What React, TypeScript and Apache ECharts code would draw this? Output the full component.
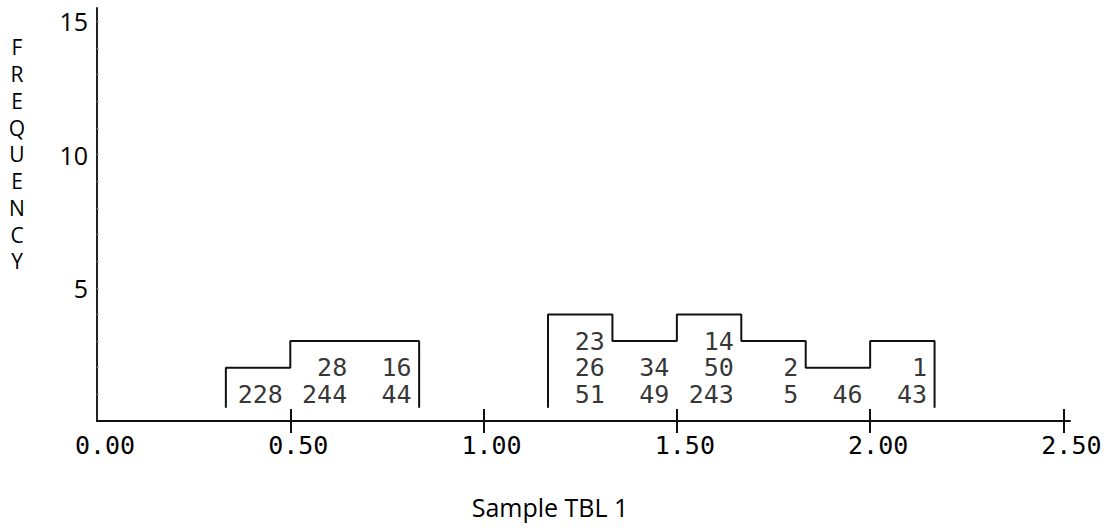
import React, { useEffect, useRef } from "react";
import * as echarts from "echarts";

// Histogram bins (left edge of each bin, in sample units) and outline heights
const binWidth = 1 / 6;
const binLefts = [1 / 3, 1 / 2, 2 / 3, 7 / 6, 4 / 3, 3 / 2, 5 / 3, 11 / 6, 2];
const binHeights = [2, 3, 3, 4, 3, 4, 3, 2, 3];
// Sample ids stacked inside each bin (bottom row first)
const binIds: string[][] = [
  ["228"],
  ["244", "28"],
  ["44", "16"],
  ["51", "26", "23"],
  ["49", "34"],
  ["243", "50", "14"],
  ["5", "2"],
  ["46"],
  ["43", "1"],
];
const edgeBase = 0.5;
const xLabelValues = [0, 0.5, 1, 1.5, 2, 2.5];
const xTickValues = [0.5, 1, 1.5, 2, 2.5];
const yLabelValues = [5, 10, 15];
const yTickValues = [1, 2, 3, 4, 5, 6, 7, 8, 9, 10, 11, 12, 13, 14, 15];
const yAxisTitle = "FREQUENCY";
const xAxisTitle = "Sample TBL 1";

const MONO = "DejaVu Sans Mono";
const SANS = "Open Sans";

function buildOutlines(): number[][][] {
  const groups: number[][][] = [];
  let cur: number[][] | null = null;
  let prevRight = -1;
  binLefts.forEach((left, i) => {
    const right = left + binWidth;
    const h = binHeights[i];
    if (!cur || Math.abs(left - prevRight) > 1e-6) {
      if (cur) {
        cur.push([prevRight, edgeBase]);
        groups.push(cur);
      }
      cur = [[left, edgeBase]];
    }
    cur.push([left, h]);
    cur.push([right, h]);
    prevRight = right;
  });
  if (cur) {
    (cur as number[][]).push([prevRight, edgeBase]);
    groups.push(cur);
  }
  return groups;
}

export default function App() {
  const ref = useRef<HTMLDivElement>(null);
  useEffect(() => {
    if (!ref.current) return;
    const chart = echarts.init(ref.current, undefined, { renderer: "svg" });
    const outlines = buildOutlines();
    const labelData: any[] = [];
    binLefts.forEach((left, i) => {
      binIds[i].forEach((id, k) => {
        labelData.push({ value: [left + binWidth, k + 1], name: id });
      });
    });
    const lineColor = "#111";
    chart.setOption({
      animation: false,
      grid: { left: 97, right: 41, top: 8, bottom: 108 },
      xAxis: [
        {
          type: "value",
          min: 0,
          max: 2.517,
          interval: 0.5,
          splitLine: { show: false },
          axisLine: { show: true, onZero: false, lineStyle: { color: lineColor, width: 2 } },
          axisTick: {
            show: true,
            customValues: xTickValues,
            length: 12,
            lineStyle: { color: lineColor, width: 2 },
          },
          axisLabel: {
            customValues: xLabelValues,
            formatter: (v: number) => v.toFixed(2),
            fontFamily: MONO,
            fontSize: 25,
            color: "#000",
            margin: 12,
            padding: [0, 0, 0, 16],
          },
        },
        {
          type: "value",
          position: "bottom",
          min: 0,
          max: 2.517,
          interval: 0.5,
          splitLine: { show: false },
          axisLine: { show: false },
          axisTick: {
            show: true,
            inside: true,
            customValues: xTickValues,
            length: 12,
            lineStyle: { color: lineColor, width: 2 },
          },
          axisLabel: { show: false },
        },
      ],
      yAxis: {
        type: "value",
        min: 0,
        max: 15.5,
        interval: 5,
        splitLine: { show: false },
        axisLine: { show: true, onZero: false, lineStyle: { color: "#222", width: 2 } },
        axisTick: {
          show: true,
          inside: true,
          customValues: yTickValues,
          length: 2,
          lineStyle: { color: "#aaa", width: 1 },
        },
        axisLabel: {
          customValues: yLabelValues,
          fontFamily: SANS,
          fontSize: 25,
          color: "#000",
          margin: 9,
        },
      },
      graphic: [
        {
          type: "text",
          x: 17,
          y: 34,
          style: {
            text: yAxisTitle.split("").join("\n"),
            fontFamily: SANS,
            fontSize: 21,
            lineHeight: 26.75,
            fill: "#000",
            textAlign: "center",
          },
        },
        {
          type: "text",
          x: 550,
          y: 507,
          style: {
            text: xAxisTitle,
            fontFamily: SANS,
            fontSize: 25,
            fill: "#000",
            textAlign: "center",
            textVerticalAlign: "middle",
          },
        },
      ],
      series: [
        ...outlines.map((pts) => ({
          type: "line",
          data: pts,
          xAxisIndex: 0,
          symbol: "none",
          lineStyle: { color: lineColor, width: 2 },
          silent: true,
        })),
        {
          type: "scatter",
          xAxisIndex: 0,
          data: labelData,
          symbol: "circle",
          symbolSize: 1,
          itemStyle: { color: "rgba(0,0,0,0)" },
          label: {
            show: true,
            position: "left",
            distance: 7,
            formatter: "{b}",
            fontFamily: MONO,
            fontSize: 25,
            lineHeight: 22,
            color: "#000",
          },
          silent: true,
        },
      ],
    });
    return () => chart.dispose();
  }, []);
  return <div ref={ref} style={{ width: 1111, height: 529, position: "absolute", left: 0, top: 0 }} />;
}
